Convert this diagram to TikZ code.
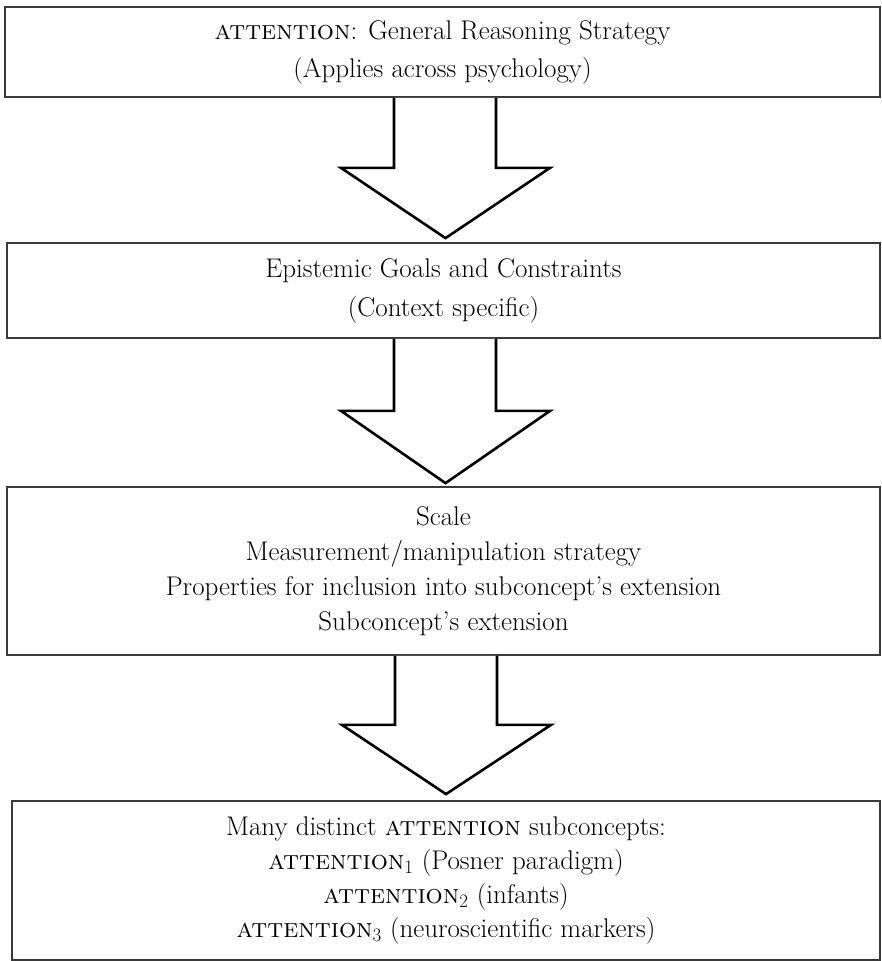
\documentclass[tikz,border=0pt]{standalone}
\usepackage{fontspec}
\usetikzlibrary{calc}
\definecolor{boxgray}{HTML}{3A3A3A}
\begin{document}
\begin{tikzpicture}[x=1pt,y=-1pt,
  box/.style={draw=boxgray,line width=1.8pt,rectangle,inner sep=0pt,align=center},
  blockarrow/.style={draw=black,line width=2.6pt,line join=miter,fill=white}]
\useasboundingbox (0,0) rectangle (882,961);
\node[box,minimum width=875pt,minimum height=90pt,font=\fontsize{27}{38}\selectfont] (b1) at (442.5,52)
  {\textsc{attention}: General Reasoning Strategy\\(Applies across psychology)};
\node[box,minimum width=873pt,minimum height=95pt,font=\fontsize{27}{39}\selectfont] (b2) at (443.5,290.5)
  {Epistemic Goals and Constraints\\(Context specific)};
\node[box,minimum width=873pt,minimum height=168pt,font=\fontsize{27}{35}\selectfont] (b3) at (443.5,571)
  {Scale\\Measurement/manipulation strategy\\Properties for inclusion into subconcept's extension\\Subconcept's extension};
\node[box,minimum width=868pt,minimum height=159pt,font=\fontsize{27}{34}\selectfont] (b4) at (446,880.5)
  {Many distinct \textsc{attention} subconcepts:\\\textsc{attention}\textsubscript{1} (Posner paradigm)\\\textsc{attention}\textsubscript{2} (infants)\\\textsc{attention}\textsubscript{3} (neuroscientific markers)};
% block arrows
\draw[blockarrow] ($(b1.south)+(-48.5,0)$) -- ++(0,70) -- ++(-53,0) -- ($(b2.north)+(2,-4)$) -- ($(b1.south)+(107.5,70)$) -- ++(-54,0) -- ($(b1.south)+(53.5,0)$);
\draw[blockarrow] ($(b2.south)+(-49.5,0)$) -- ++(0,72) -- ++(-53,0) -- ($(b3.north)+(2,-3)$) -- ($(b2.south)+(106.5,72)$) -- ++(-54,0) -- ($(b2.south)+(52.5,0)$);
\draw[blockarrow] ($(b3.south)+(-48.5,0)$) -- ++(0,69) -- ++(-53,0) -- ($(b4.north)+(0,-6)$) -- ($(b3.south)+(107.5,69)$) -- ++(-54,0) -- ($(b3.south)+(53.5,0)$);
\end{tikzpicture}
\end{document}
